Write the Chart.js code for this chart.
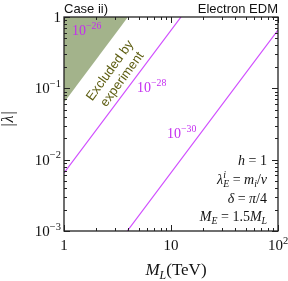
<!DOCTYPE html>
<html>
<head>
<meta charset="utf-8">
<script src="https://cdn.jsdelivr.net/npm/chart.js@4.4.1/dist/chart.umd.min.js"></script>
<style>
  html, body { margin: 0; padding: 0; background: #fff; }
  canvas { display: block; }
</style>
</head>
<body>
<canvas id="edm" width="288" height="281"></canvas>
<script>
// contornos de |d_e| no plano (M_L, |lambda|)
const contourExp = ['26', '28', '30'];                 // 10^-26, 10^-28, 10^-30
const contourML = [[1, 1.235], [1, 12.4], [3.9, 100]];
const contourLambda = [[0.656, 1], [0.0065, 1], [0.001, 0.656]];

// regiao excluida pelo experimento (acima da reta)
const excludedML = [1, 3.96];
const excludedLambda = [0.0635, 1];

// rotulos dos eixos
const xTicks = [1, 10, 100];
const xTickText = [['1', ''], ['10', ''], ['10', '2']];
const yTicks = [1, 0.1, 0.01, 0.001];
const yTickText = [['1', ''], ['10', '\u22121'], ['10', '\u22122'], ['10', '\u22123']];

const lineColor = '#d04cff';
const labelColor = '#c42cf0';
const serif = '"Liberation Serif", "DejaVu Serif", serif';
const sans = '"Liberation Sans", Arial, sans-serif';

// texto com indices/expoentes: {t, it, pos(-1 sub, 1 sup), sup}
function rich(ctx, parts, x, y, size, align, color) {
  const small = size * 0.7;
  const font = (s, it) => (it ? 'italic ' : '') + s + 'px ' + serif;
  let w = 0;
  const ws = parts.map(p => {
    ctx.font = font(p.pos ? small : size, p.it);
    let pw = ctx.measureText(p.t).width;
    if (p.sup) { ctx.font = font(small, true); pw = Math.max(pw, ctx.measureText(p.sup).width); }
    w += pw;
    return pw;
  });
  let cx = align === 'right' ? x - w : align === 'center' ? x - w / 2 : x;
  ctx.fillStyle = color;
  ctx.textAlign = 'left';
  ctx.textBaseline = 'alphabetic';
  parts.forEach((p, i) => {
    ctx.font = font(p.pos ? small : size, p.it);
    const dy = p.pos === 1 ? -size * 0.42 : p.pos === -1 ? size * 0.22 : 0;
    ctx.fillText(p.t, cx, y + dy);
    if (p.sup) { ctx.font = font(small, true); ctx.fillText(p.sup, cx, y - size * 0.4); }
    cx += ws[i];
  });
}

const decor = {
  id: 'decor',
  afterDatasetsDraw(chart) {
    const { ctx, chartArea: a, scales: { x, y } } = chart;
    ctx.save();

    // marcas internas nos quatro lados
    ctx.strokeStyle = '#222';
    ctx.lineWidth = 1;
    ctx.beginPath();
    for (let e = 0; e <= 2; e++) {
      for (let d = 1; d <= 9; d++) {
        const v = d * Math.pow(10, e);
        if (v > 100) break;
        const px = Math.round(x.getPixelForValue(v)) + 0.5;
        const len = d === 1 ? 6 : 3;
        ctx.moveTo(px, a.bottom); ctx.lineTo(px, a.bottom - len);
        ctx.moveTo(px, a.top); ctx.lineTo(px, a.top + len);
      }
    }
    for (let e = -3; e <= 0; e++) {
      for (let d = 1; d <= 9; d++) {
        const v = d * Math.pow(10, e);
        if (v > 1) break;
        const py = Math.round(y.getPixelForValue(v)) + 0.5;
        const len = d === 1 ? 6 : 3;
        ctx.moveTo(a.left, py); ctx.lineTo(a.left + len, py);
        ctx.moveTo(a.right, py); ctx.lineTo(a.right - len, py);
      }
    }
    ctx.stroke();
    ctx.lineWidth = 1.3;
    ctx.strokeRect(a.left, a.top, a.right - a.left, a.bottom - a.top);

    // rotulos dos ticks
    xTicks.forEach((v, i) => {
      const [b, s] = xTickText[i];
      const parts = [{ t: b }];
      if (s) parts.push({ t: s, pos: 1 });
      rich(ctx, parts, x.getPixelForValue(v), a.bottom + 19, 15, 'center', '#111');
    });
    yTicks.forEach((v, i) => {
      const [b, s] = yTickText[i];
      const parts = [{ t: b }];
      if (s) parts.push({ t: s, pos: 1 });
      rich(ctx, parts, a.left - 3, y.getPixelForValue(v) + 5, 15, 'right', '#111');
    });

    // titulos dos eixos
    rich(ctx, [{ t: 'M', it: 1 }, { t: 'L', it: 1, pos: -1 }, { t: '(TeV)' }],
      176, 275, 17, 'center', '#111');
    ctx.save();
    ctx.translate(13, 119);
    ctx.rotate(-Math.PI / 2);
    ctx.font = '16px ' + serif;
    ctx.fillStyle = '#111';
    ctx.textAlign = 'center';
    ctx.fillText('|', -6, 0);
    ctx.font = 'italic 16px ' + serif;
    ctx.fillText('\u03bb', 0, 0);
    ctx.font = '16px ' + serif;
    ctx.fillText('|', 6, 0);
    ctx.restore();

    // cabecalho
    ctx.font = '13px ' + sans;
    ctx.fillStyle = '#111';
    ctx.textAlign = 'left';
    ctx.fillText('Case ii)', a.left, 13);
    ctx.textAlign = 'right';
    ctx.fillText('Electron EDM', a.right, 13);

    // rotulos dos contornos
    const lblPos = [[1.19, 0.56], [4.82, 0.088], [9.17, 0.0204]];
    contourExp.forEach((ex, i) => {
      rich(ctx, [{ t: '10' }, { t: '\u2212' + ex, pos: 1 }],
        x.getPixelForValue(lblPos[i][0]), y.getPixelForValue(lblPos[i][1]), 14, 'left', labelColor);
    });

    // texto da regiao excluida
    ctx.save();
    ctx.translate(x.getPixelForValue(3.05), y.getPixelForValue(0.155));
    ctx.rotate(-54 * Math.PI / 180);
    ctx.font = '13px ' + sans;
    ctx.fillStyle = '#5e5e12';
    ctx.textAlign = 'center';
    ctx.textBaseline = 'middle';
    ctx.fillText('Excluded by', 0, -7);
    ctx.fillText('experiment', 0, 8);
    ctx.restore();

    // parametros
    const rx = a.right - 11;
    rich(ctx, [{ t: 'h', it: 1 }, { t: ' = 1' }], rx, 165, 14, 'right', '#111');
    rich(ctx, [{ t: '\u03bb', it: 1 }, { t: 'E', it: 1, pos: -1, sup: 'i' }, { t: ' = ' },
      { t: 'm', it: 1 }, { t: 'i', it: 1, pos: -1 }, { t: '/' }, { t: 'v', it: 1 }], rx, 184, 14, 'right', '#111');
    rich(ctx, [{ t: '\u03b4', it: 1 }, { t: ' = ' }, { t: '\u03c0', it: 1 }, { t: '/4' }], rx, 203, 14, 'right', '#111');
    rich(ctx, [{ t: 'M', it: 1 }, { t: 'E', it: 1, pos: -1 }, { t: ' = 1.5' },
      { t: 'M', it: 1 }, { t: 'L', it: 1, pos: -1 }], rx, 221, 14, 'right', '#111');

    ctx.restore();
  }
};

const datasets = [{
  label: 'excluded',
  data: excludedML.map((m, i) => ({ x: m, y: excludedLambda[i] })),
  showLine: true,
  borderWidth: 0,
  borderColor: 'rgba(0,0,0,0)',
  backgroundColor: '#a3b38b',
  fill: 'end',
  pointRadius: 0
}];
contourExp.forEach((ex, i) => {
  datasets.push({
    label: '1e-' + ex,
    data: contourML[i].map((m, j) => ({ x: m, y: contourLambda[i][j] })),
    showLine: true,
    borderColor: lineColor,
    borderWidth: 1.2,
    fill: false,
    pointRadius: 0
  });
});

new Chart(document.getElementById('edm'), {
  type: 'scatter',
  data: { datasets },
  options: {
    responsive: false,
    animation: false,
    layout: { padding: { left: 64, right: 10, top: 17, bottom: 50 } },
    plugins: { legend: { display: false }, tooltip: { enabled: false } },
    scales: {
      x: { type: 'logarithmic', min: 1, max: 100, display: false },
      y: { type: 'logarithmic', min: 0.001, max: 1, display: false }
    }
  },
  plugins: [decor]
});
</script>
</body>
</html>
